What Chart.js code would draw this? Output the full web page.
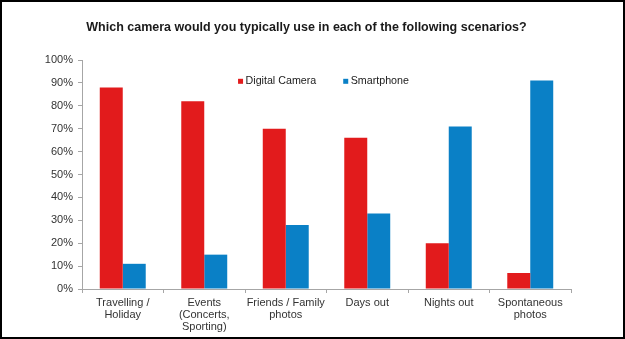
<!DOCTYPE html>
<html>
<head>
<meta charset="utf-8">
<script src="https://cdn.jsdelivr.net/npm/chart.js@4.4.1/dist/chart.umd.min.js"></script>
<style>
  html, body { margin: 0; padding: 0; background: #fff; }
  #wrap { position: relative; width: 625px; height: 339px; }
  #c { position: absolute; left: 0; top: 0; }
  #frame { position: absolute; left: 0; top: 0; width: 625px; height: 339px; box-sizing: border-box; border: 2px solid #000; pointer-events: none; }
</style>
</head>
<body>
<div id="wrap">
  <canvas id="c" width="625" height="339"></canvas>
  <div id="frame"></div>
</div>
<script>
const titleText = 'Which camera would you typically use in each of the following scenarios?';
const categories = [
  ['Travelling /', 'Holiday'],
  ['Events', '(Concerts,', 'Sporting)'],
  ['Friends / Family', 'photos'],
  ['Days out'],
  ['Nights out'],
  ['Spontaneous', 'photos']
];
const seriesNames = ['Digital Camera', 'Smartphone'];
const digitalCamera = [88, 82, 70, 66, 20, 7];
const smartphone = [11, 15, 28, 33, 71, 91];
const yTicks = [0, 10, 20, 30, 40, 50, 60, 70, 80, 90, 100];

const FONT = "'Liberation Sans', Arial, Helvetica, sans-serif";
const axisGray = '#a6a6a6';
const textGray = '#333333';

// Legend drawn inside the plot area (top centre), as in the reference
const insideLegend = {
  id: 'insideLegend',
  afterDraw(chart) {
    const ctx = chart.ctx;
    const area = chart.chartArea;
    const box = 5, gapText = 2.5, spacing = 27;
    ctx.save();
    ctx.font = '10.7px ' + FONT;
    ctx.textBaseline = 'middle';
    ctx.textAlign = 'left';
    const items = chart.data.datasets.map(ds => ({
      text: ds.label, color: ds.backgroundColor, w: box + gapText + ctx.measureText(ds.label).width
    }));
    const total = items.reduce((s, it) => s + it.w, 0) + spacing * (items.length - 1);
    let x = (area.left + area.right) / 2 - 3 - total / 2;
    const y = area.top + 21.3;
    items.forEach(it => {
      ctx.fillStyle = it.color;
      ctx.fillRect(x, y - box / 2, box, box);
      ctx.fillStyle = '#1a1a1a';
      ctx.fillText(it.text, x + box + gapText, y);
      x += it.w + spacing;
    });
    ctx.restore();
  }
};

new Chart(document.getElementById('c'), {
  type: 'bar',
  data: {
    labels: categories,
    datasets: [
      { label: seriesNames[0], data: digitalCamera, backgroundColor: '#E21B1C', borderWidth: 0 },
      { label: seriesNames[1], data: smartphone, backgroundColor: '#0A80C6', borderWidth: 0 }
    ]
  },
  plugins: [insideLegend],
  options: {
    responsive: false,
    animation: false,
    devicePixelRatio: 1,
    layout: { padding: { left: 0, right: 12, top: 0, bottom: 0 } },
    datasets: { bar: { categoryPercentage: 0.564, barPercentage: 1.0 } },
    plugins: {
      title: {
        display: true,
        text: titleText,
        color: '#1a1a1a',
        font: { family: FONT, size: 12.5, weight: 'bold', lineHeight: 1.2 },
        padding: { top: 20.5, bottom: 24.5 }
      },
      legend: { display: false },
      tooltip: { enabled: false }
    },
    scales: {
      x: {
        offset: true,
        grid: { display: true, offset: true, drawOnChartArea: false, tickLength: 4, color: axisGray },
        border: { display: true, color: axisGray, width: 1 },
        ticks: {
          color: textGray,
          font: { family: FONT, size: 11, lineHeight: 1.12 },
          padding: 3.5,
          maxRotation: 0,
          autoSkip: false
        },
        afterFit: (s) => { s.height = 50; }
      },
      y: {
        min: 0,
        max: 100,
        afterBuildTicks: (s) => { s.ticks = yTicks.map(v => ({ value: v })); },
        grid: { display: true, drawOnChartArea: false, tickLength: 4, color: axisGray },
        border: { display: true, color: axisGray, width: 1 },
        ticks: {
          color: textGray,
          font: { family: FONT, size: 11 },
          padding: 5,
          callback: (v) => v + '%'
        },
        afterFit: (s) => { s.width = 82; }
      },
      y2: {
        type: 'linear',
        position: 'right',
        display: true,
        grid: { display: false },
        border: { display: false },
        ticks: { display: false },
        afterFit: (s) => { s.width = 42; }
      }
    }
  }
});
</script>
</body>
</html>
